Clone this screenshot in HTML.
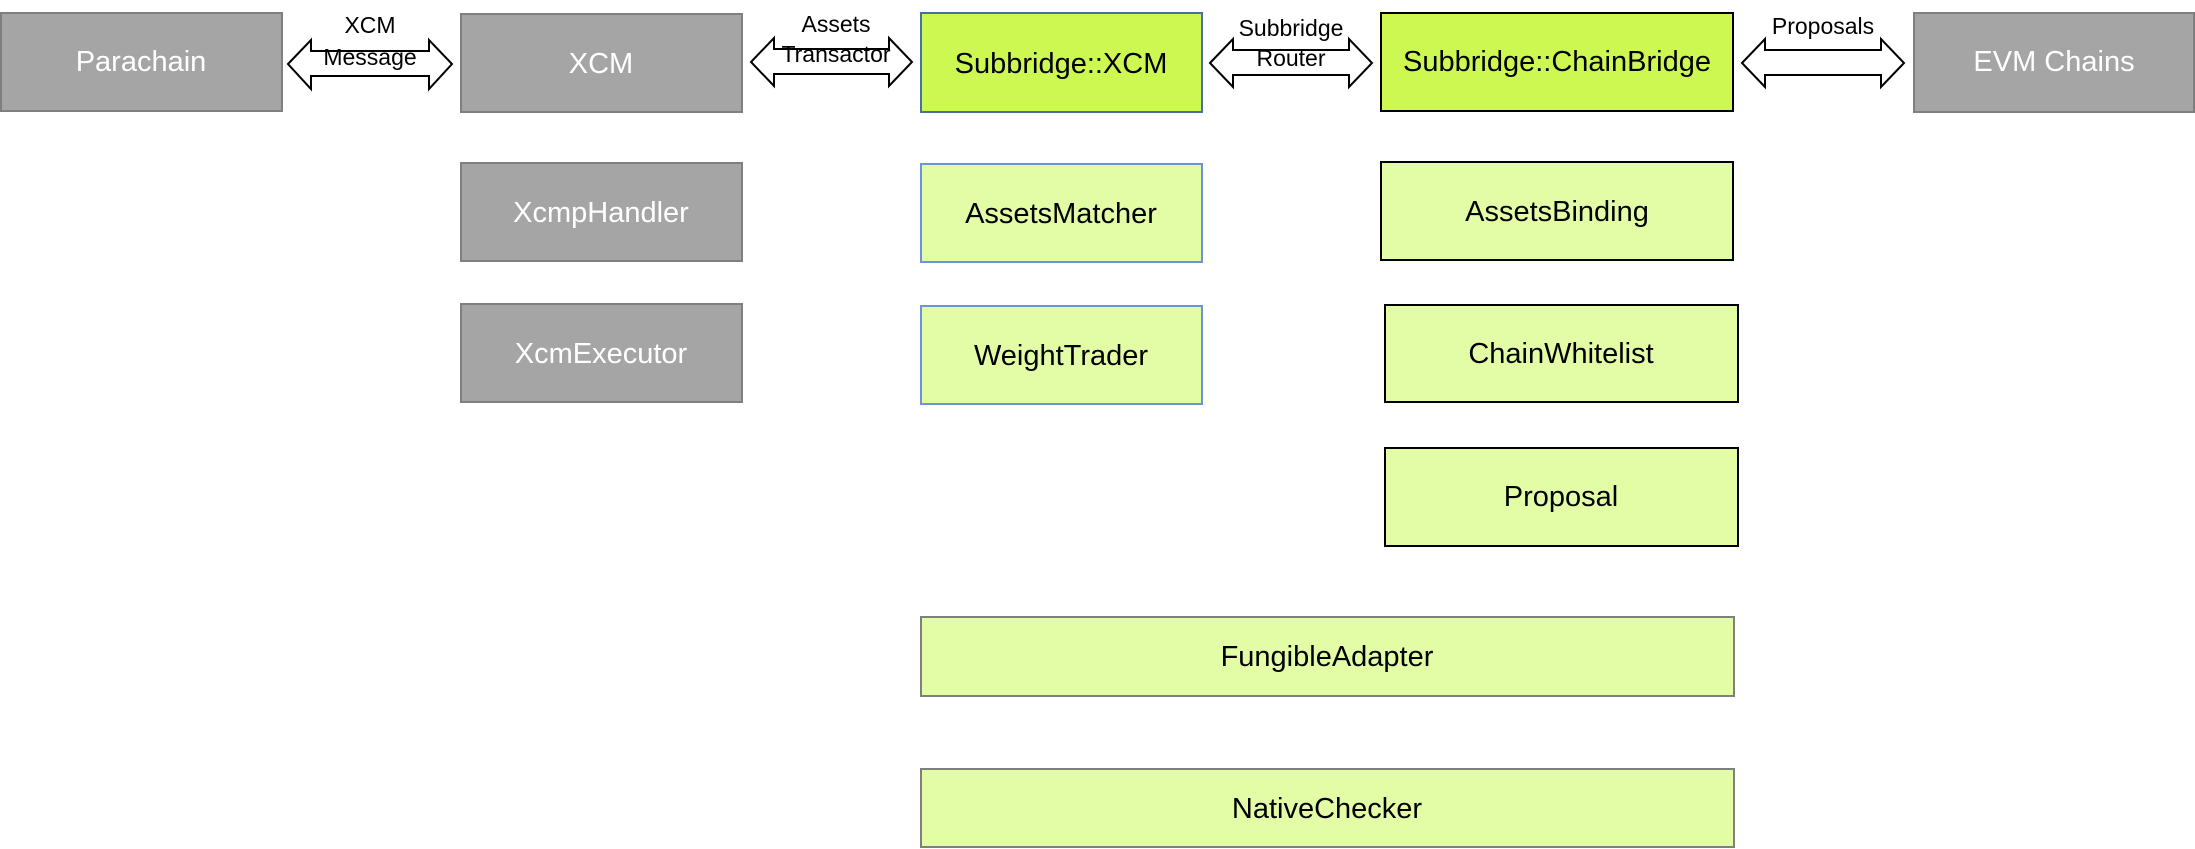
<!DOCTYPE html>
<html><head><meta charset="utf-8"><style>
html,body{margin:0;padding:0;background:#fff;}
svg{display:block;}
.bt{font-family:"Liberation Sans",sans-serif;font-size:29px;text-anchor:middle;dominant-baseline:central;}
.lt{font-family:"Liberation Sans",sans-serif;font-size:23px;text-anchor:middle;dominant-baseline:central;fill:#000;}
</style></head><body>
<svg width="2195" height="849" viewBox="0 0 2195 849" xmlns="http://www.w3.org/2000/svg">
<g stroke-width="2">
<!-- gray boxes -->
<rect x="1" y="13" width="281" height="98" fill="#a5a5a5" stroke="#7f7f7f"/>
<rect x="461" y="14" width="281" height="98" fill="#a5a5a5" stroke="#7f7f7f"/>
<rect x="461" y="163" width="281" height="98" fill="#a5a5a5" stroke="#7f7f7f"/>
<rect x="461" y="304" width="281" height="98" fill="#a5a5a5" stroke="#7f7f7f"/>
<rect x="1914" y="13" width="280" height="99" fill="#a5a5a5" stroke="#7f7f7f"/>
<!-- bright green -->
<rect x="921" y="13" width="281" height="99" fill="#cdf852" stroke="#4a6fa8"/>
<rect x="1381" y="13" width="352" height="98" fill="#cdf852" stroke="#000"/>
<!-- light green -->
<rect x="921" y="164" width="281" height="98" fill="#e3fca6" stroke="#6d94d6"/>
<rect x="921" y="306" width="281" height="98" fill="#e3fca6" stroke="#6d94d6"/>
<rect x="1381" y="162" width="352" height="98" fill="#e3fca6" stroke="#000"/>
<rect x="1385" y="305" width="353" height="97" fill="#e3fca6" stroke="#000"/>
<rect x="1385" y="448" width="353" height="98" fill="#e3fca6" stroke="#000"/>
<rect x="921" y="617" width="813" height="79" fill="#e3fca6" stroke="#7f7f7f"/>
<rect x="921" y="769" width="813" height="78" fill="#e3fca6" stroke="#7f7f7f"/>
</g>
<g fill="#fff" stroke="#000" stroke-width="2">
<polygon points="288,64 311,40 311,51 429,51 429,40 452,64 429,89 429,76 311,76 311,89"/>
<polygon points="751,62 774,38 774,49 889,49 889,38 912,62 889,86 889,74 774,74 774,86"/>
<polygon points="1210,63 1233,39 1233,50 1349,50 1349,39 1372,63 1349,87 1349,75 1233,75 1233,87"/>
<polygon points="1742,63 1765,39 1765,50 1881,50 1881,39 1904,63 1881,87 1881,75 1765,75 1765,87"/>
</g>
<g class="bt" fill="#fff">
<text x="141" y="62">Parachain</text>
<text x="601" y="64">XCM</text>
<text x="601" y="213">XcmpHandler</text>
<text x="601" y="354">XcmExecutor</text>
<text x="2054" y="62">EVM Chains</text>
</g>
<g class="bt" fill="#000">
<text x="1061" y="64">Subbridge::XCM</text>
<text x="1557" y="62">Subbridge::ChainBridge</text>
<text x="1061" y="214">AssetsMatcher</text>
<text x="1061" y="356">WeightTrader</text>
<text x="1557" y="212">AssetsBinding</text>
<text x="1561" y="354">ChainWhitelist</text>
<text x="1561" y="497">Proposal</text>
<text x="1327" y="657">FungibleAdapter</text>
<text x="1327" y="809">NativeChecker</text>
</g>
<g class="lt">
<text x="370" y="25">XCM</text>
<text x="370" y="57">Message</text>
<text x="836" y="24">Assets</text>
<text x="836" y="54">Transactor</text>
<text x="1291" y="28">Subbridge</text>
<text x="1291" y="58">Router</text>
<text x="1823" y="26">Proposals</text>
</g>
</svg>
</body></html>
